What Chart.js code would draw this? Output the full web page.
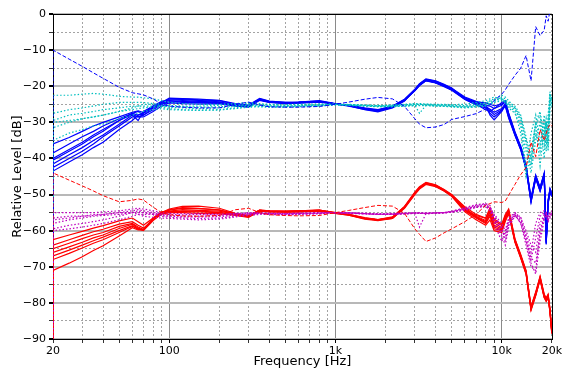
<!DOCTYPE html>
<html>
<head>
<meta charset="utf-8">
<script src="https://cdn.jsdelivr.net/npm/chart.js@4.4.1/dist/chart.umd.min.js"></script>
<style>
  html, body { margin: 0; padding: 0; background: #fff; }
</style>
</head>
<body>
<canvas id="chart" width="564" height="372"></canvas>
<script>
// ============================================
// Frequency response chart (log frequency axis)
// ============================================

// Frequencies shared by every curve (first 20 Hz point is the DC drop)
const freqs = [20, 20, 25, 30, 35, 40, 50, 60, 65, 70, 80, 90,
    100, 120, 150, 200, 250, 300, 350, 400, 500, 600, 800, 1000, 1200, 1500, 1800, 2200, 2600, 3000, 3200, 3500, 4000, 4500, 5000,
    6000, 7000, 8000, 8500, 9000, 10000, 10500, 11000, 12000, 13000, 14000, 15000, 16000, 17000, 18000, 18500, 19000, 19500, 20000];

// Tick positions / labels
const xTicks = [20, 30, 40, 50, 60, 70, 80, 90, 100, 200, 300, 400, 500, 600, 700, 800, 900,
    1000, 2000, 3000, 4000, 5000, 6000, 7000, 8000, 9000, 10000, 20000];
const xLabels = { 20: '20', 100: '100', 1000: '1k', 10000: '10k', 20000: '20k' };
const xMajor = [100, 1000, 10000];

// Blue solid curves
const blue1 = [-100, -36, -34.2, -32.5, -31, -30, -28.5, -27.2, -26.8, -27.3, -26, -25,
    -24.5, -24, -24.2, -24.4, -25.3, -25.6, -23.7, -24.4, -24.7, -24.6, -24.3, -24.9, -25.3, -26.2, -26.7, -25.7, -23.8, -21.2, -19.7, -18.4, -19, -19.9, -21,
    -23.5, -24.3, -24.6, -25, -25.4, -25, -24.2, -27.6, -32.8, -36.8, -42, -51.2, -44.8, -48.2, -44.2, -62.6, -51.7, -48.5, -49.8];
const blue2 = [-100, -38.5, -36, -34, -32.5, -31, -29, -27.5, -27, -28, -26.5, -25,
    -23.5, -23.5, -23.8, -24, -25, -25.4, -23.5, -24.2, -24.5, -24.4, -24.1, -24.9, -25.5, -26.4, -26.9, -25.9, -24, -21, -19.4, -18.1, -18.7, -19.7, -20.7,
    -23.2, -24.8, -25.6, -26.4, -27.2, -26.2, -24.8, -28.3, -33.3, -37.3, -42.6, -51.8, -45.3, -48.8, -44.8, -63.4, -52.3, -49, -50.3];
const blue3 = [-100, -40, -37.5, -35.5, -33.5, -32, -29.5, -27.8, -28.5, -28, -26, -24.5,
    -23.3, -23.4, -23.6, -23.9, -24.8, -25.2, -23.4, -24.1, -24.5, -24.4, -24, -24.8, -25.4, -26.5, -27.1, -26, -24.1, -21.1, -19.5, -18.2, -18.6, -19.6, -20.6,
    -23, -24.2, -25.2, -28, -29.3, -27, -25.3, -28.6, -33.5, -37.5, -42.8, -52, -45.5, -49, -45, -63.8, -52.6, -49.2, -50.5];
const blue4 = [-100, -40.5, -38, -36, -34, -32.5, -29.5, -27.5, -28, -27.5, -25.5, -24.5,
    -24, -24.2, -24.5, -24.6, -25.4, -25.8, -23.9, -24.5, -24.8, -24.7, -24.4, -25, -25.2, -26, -26.5, -25.5, -23.6, -20.8, -19.3, -18, -18.5, -19.5, -20.5,
    -23.6, -25, -26.5, -27, -26.2, -24.5, -24, -27.4, -32.6, -36.6, -41.8, -51, -44.6, -48, -44, -62.4, -51.5, -48.3, -49.6];
const blue5 = [-100, -41.5, -39, -37, -35, -33.5, -30.5, -28, -29.5, -27, -25.5, -24.2,
    -23.8, -23.7, -23.9, -24.3, -25.2, -25.5, -23.6, -24.3, -24.6, -24.5, -24.2, -24.9, -25.4, -26.3, -26.8, -25.8, -23.9, -21.2, -19.8, -18.5, -19.1, -20.1, -21.1,
    -23.7, -25.2, -26, -27.5, -28.5, -26.8, -25, -28.2, -33.1, -37.1, -42.4, -51.6, -45.1, -48.6, -44.6, -63.1, -52.1, -48.8, -50.1];
const blue6 = [-100, -42.5, -40, -38, -36, -34, -31, -28.5, -28.5, -28.5, -27, -25.5,
    -24.6, -24.8, -24.9, -24.8, -25.5, -25.7, -23.8, -24.4, -24.6, -24.5, -24.3, -24.9, -25.3, -26.2, -26.6, -25.6, -23.7, -21, -19.6, -18.3, -18.9, -19.8, -20.9,
    -23.5, -24.6, -25.5, -26.8, -27.8, -26.5, -25.5, -28.8, -33.6, -37.6, -42.9, -52.1, -45.6, -49.1, -45.1, -63.6, -52.5, -49.3, -50.6];
const blue7 = [-100, -43.5, -41, -39, -37, -35.5, -32, -29.5, -28, -27.5, -25.8, -24.8,
    -24.3, -24.5, -24.4, -24.6, -25.3, -25.6, -23.7, -24.4, -24.7, -24.6, -24.3, -24.9, -25.3, -26.3, -26.8, -25.8, -23.9, -21.3, -19.8, -18.4, -19, -20, -21,
    -23.2, -24.5, -25.3, -25.5, -26.2, -25.3, -24.3, -27.8, -32.9, -36.9, -42.1, -51.3, -44.9, -48.3, -44.3, -62.8, -51.8, -48.6, -49.9];

// Cyan dotted curves
const cyan1 = [-100, -22.5, -22.5, -22.2, -22, -22.2, -22.8, -23, -23, -23.2, -23.5, -24,
    -24.5, -24.8, -25, -25, -24.8, -24.5, -24.8, -25, -25.1, -25, -24.9, -25, -25, -25.2, -25.3, -25.2, -25, -24.8, -24.8, -24.9, -25, -25, -25.1,
    -25, -24.5, -24, -23.5, -23, -23.5, -24, -24.5, -25.5, -28, -34, -40, -30, -27, -34, -29, -33, -22, -24];
const cyan2 = [-100, -27.5, -26.5, -26, -25.5, -25, -24.5, -24.5, -24.5, -24.5, -24.8, -25,
    -25.3, -25.5, -25.5, -25.3, -25, -24.8, -25, -25.2, -25.3, -25.2, -25.1, -25, -25.1, -25.3, -25.5, -25.4, -25.2, -25, -25, -25.1, -25.2, -25.3, -25.4,
    -25.6, -25.3, -24.8, -24, -23.5, -22.5, -23, -24, -26, -30, -43, -33, -28, -36, -29, -38, -28, -21.5, -26];
const cyan3 = [-100, -29.5, -28, -27.5, -27, -26.5, -26, -25.5, -25.5, -25.5, -25.5, -25.5,
    -25.8, -26, -26.2, -26, -25.6, -25.3, -25.4, -25.6, -25.6, -25.5, -25.3, -25, -25.2, -25.4, -25.6, -25.6, -25.4, -25.2, -27.5, -25.3, -25.4, -25.5, -25.6,
    -25.8, -25.6, -25.2, -25, -24.5, -24, -24.5, -25.5, -27, -33, -45, -38, -30, -42, -31, -36, -30, -23, -25];
const cyan4 = [-100, -31.5, -30, -29, -28.5, -28, -27, -26.5, -26.2, -26, -25.8, -25.8,
    -26.2, -26.5, -26.6, -26.5, -26, -25.6, -25.6, -25.7, -25.7, -25.6, -25.4, -25.1, -25.3, -25.5, -25.7, -25.7, -25.5, -25.4, -25.4, -25.4, -25.5, -25.6, -25.7,
    -26, -25.8, -25.5, -25, -24.2, -23.5, -24.5, -26, -27.5, -31, -38, -42, -33, -38, -28, -32, -35, -24, -23];
const cyan5 = [-100, -35, -33, -32, -31, -30.5, -29, -28, -27.5, -27, -26.5, -26.2,
    -26.5, -26.6, -26.7, -26.6, -26.2, -25.8, -25.7, -25.8, -25.8, -25.7, -25.5, -25.2, -25.3, -25.5, -25.6, -25.6, -25.5, -25.3, -25.3, -25.3, -25.4, -25.5, -25.6,
    -25.8, -25.5, -25.2, -24.6, -24, -23, -23.5, -25, -26.5, -29, -36, -44, -35, -30, -40, -30, -37, -25, -24.5];
const cyan6 = [-100, -30, -29.5, -29, -28.5, -28, -27, -26, -25.5, -25, -25, -25.5,
    -25.6, -25.7, -25.8, -25.7, -25.4, -25.1, -25.2, -25.4, -25.5, -25.4, -25.2, -25, -25.1, -25.3, -25.4, -25.3, -25.1, -25, -25, -25, -25.1, -25.2, -25.3,
    -25.4, -25, -24.6, -24.2, -23.8, -23.5, -24.5, -25, -26, -28.5, -35, -41, -31, -28, -36, -30, -38, -26, -22.5];

// Blue dashed curve
const blueDash = [-100, -10, -12.5, -14.5, -16.3, -17.8, -20.3, -21.8, -22.1, -22.4, -23.5, -25,
    -25.5, -25.8, -26, -26, -25, -24.4, -25.2, -25.7, -25.8, -25.8, -25.6, -25, -24.4, -23.6, -23.1, -23.5, -25.6, -29, -30.5, -31.5, -31.3, -30.6, -29.2,
    -28.4, -27.6, -26.3, -25, -24, -22.2, -21, -19.5, -17, -15, -11.5, -18.5, -3.5, -6, -4.5, -0.5, -2, 1, 2];

// Red solid curves
const red1 = [-100, -62.5, -61.2, -60.2, -59.3, -58.6, -57.3, -56.5, -57.5, -58.5, -56.5, -55,
    -54, -53.3, -53.2, -53.8, -55.2, -55.8, -54.3, -54.5, -54.6, -54.5, -54.3, -55, -55.5, -56.4, -56.9, -56.2, -53.4, -49.6, -48.2, -47, -47.6, -49, -50.4,
    -54.2, -55.8, -56.6, -54.2, -57.2, -58.6, -55.8, -54.2, -62.4, -66.8, -71.2, -81.2, -77.2, -72.8, -77.8, -78.8, -77.8, -81.8, -87.8];
const red2 = [-100, -64, -62.5, -61.3, -60.3, -59.6, -58.2, -57.5, -58.5, -59.3, -57, -55.3,
    -54.3, -53.8, -53.9, -54.2, -55.4, -55.9, -54.4, -54.6, -54.7, -54.6, -54.4, -55.1, -55.6, -56.6, -57, -56.4, -53.5, -49.5, -48, -46.8, -47.4, -48.7, -50.1,
    -53.6, -56.2, -57.5, -55, -58.5, -59.5, -56.5, -54.8, -62.8, -67.2, -71.6, -81.6, -77.6, -73.2, -78.2, -79.2, -78.2, -82.2, -88.2];
const red3 = [-100, -65, -63.5, -62.2, -61.2, -60.5, -58.8, -58, -59, -59.6, -57, -55.2,
    -54.8, -54.5, -54.6, -54.9, -55.7, -56.2, -54.5, -54.7, -54.8, -54.7, -54.5, -55.2, -55.7, -56.8, -57.2, -56.6, -53.7, -49.8, -48.3, -47, -47.6, -48.9, -50.3,
    -54.5, -56.5, -58, -56, -59.5, -60, -57, -55, -63, -67.5, -72, -82, -78, -73.5, -78.5, -79.5, -78.5, -82.5, -88.5];
const red4 = [-100, -66, -64.5, -63.2, -62, -61.2, -59.4, -58.2, -59.3, -59.8, -56.8, -55,
    -54.2, -53.6, -53.8, -54.3, -55.3, -55.9, -54.3, -54.5, -54.6, -54.5, -54.3, -55, -55.5, -56.5, -56.9, -56.3, -53.3, -49.3, -47.8, -46.6, -47.3, -48.6, -50,
    -53.4, -55.5, -56.5, -53.6, -56.8, -58.2, -55.5, -54, -62.2, -66.6, -71, -81, -77, -72.6, -77.6, -78.6, -77.6, -81.6, -87.6];
const red5 = [-100, -67, -65.4, -64, -62.8, -61.8, -60, -58.6, -59.5, -59.8, -56.5, -54.8,
    -54.6, -54.2, -54.4, -54.6, -55.5, -56, -54.4, -54.6, -54.7, -54.6, -54.4, -55.1, -55.6, -56.6, -57, -56.5, -53.6, -49.6, -48.1, -46.9, -47.5, -48.8, -50.2,
    -54, -56, -57.2, -54.5, -57.8, -59.2, -56.2, -54.6, -62.6, -67, -71.4, -81.4, -77.4, -73, -78, -79, -78, -82, -88];
const red6 = [-100, -68, -66.3, -64.8, -63.5, -62.5, -60.5, -58.8, -59.6, -60, -57.2, -55.4,
    -55, -55, -55.2, -55.3, -55.8, -56.3, -54.6, -54.8, -54.9, -54.8, -54.6, -55.2, -55.7, -56.7, -57.1, -56.6, -53.8, -50, -48.5, -47.2, -47.8, -49, -50.5,
    -54.8, -57, -58.5, -57, -60, -60.5, -57.5, -55.3, -63.2, -67.6, -72, -82, -78, -73.6, -78.6, -79.6, -78.6, -82.6, -88.6];
const red7 = [-100, -71, -69, -67.2, -65.5, -64.2, -61.5, -59.2, -59.8, -59.7, -56.8, -55,
    -54.7, -54.7, -54.8, -55, -55.6, -56.1, -54.5, -54.7, -54.8, -54.7, -54.5, -55.1, -55.6, -56.6, -57, -56.5, -53.5, -49.7, -48.2, -47, -47.6, -48.9, -50.3,
    -54.3, -56.3, -57.8, -55.5, -59, -59.8, -56.8, -54.8, -62.9, -67.3, -71.7, -81.7, -77.7, -73.3, -78.3, -79.3, -78.3, -82.3, -88.3];

// Magenta dotted curves
const magenta1 = [-100, -55, -55, -55, -55, -54.8, -54.5, -54, -53.8, -54, -54.5, -55,
    -55.2, -55.3, -55.3, -55.4, -55.2, -55, -55, -55.1, -55.2, -55.1, -55, -55, -55, -55.2, -55.3, -55.2, -55.1, -55, -55, -55.1, -55, -55, -54.8,
    -54, -53.2, -52.8, -53.5, -55.5, -58, -60, -57, -55, -57, -61, -66, -58, -55, -54.5, -55, -55.5, -55, -54.5];
const magenta2 = [-100, -56.5, -56, -56, -55.8, -55.5, -55, -54.5, -54.2, -54.5, -55, -55.3,
    -55.5, -55.6, -55.5, -55.6, -55.3, -55.2, -55.1, -55.3, -55.3, -55.2, -55.1, -55, -55.1, -55.3, -55.5, -55.4, -55.2, -55.1, -55.2, -55.2, -55.1, -55, -54.6,
    -53.8, -53, -52.6, -54, -57, -61.5, -64, -59, -56, -56, -62, -68, -62, -56, -55, -55.5, -57, -56, -55];
const magenta3 = [-100, -58, -57, -56.5, -56, -55.8, -55.5, -55, -55, -55, -55.2, -55.5,
    -55.8, -56, -56, -55.8, -55.5, -55.3, -55.2, -55.4, -55.4, -55.3, -55.2, -55, -55.2, -55.4, -55.5, -55.4, -55.3, -55.2, -59, -55.3, -55.2, -55.1, -54.9,
    -54.2, -53.5, -53.2, -54.5, -56, -59.5, -62, -58, -55.5, -58, -64, -70, -71, -60, -56, -55, -56, -55.5, -55.2];
const magenta4 = [-100, -60, -59.5, -59, -58.5, -58, -57, -56, -55.5, -55.5, -55.5, -56,
    -56.3, -56.5, -56.6, -56.5, -56, -55.6, -55.3, -55.4, -55.5, -55.4, -55.3, -55, -55.1, -55.3, -55.5, -55.5, -55.4, -55.2, -55.2, -55.2, -55.1, -55, -54.7,
    -53.6, -52.8, -52.5, -53, -56.5, -60.5, -61, -57.5, -55.5, -57.5, -63, -69, -72, -63, -57, -56, -57.5, -56.5, -55.5];
const magenta5 = [-100, -57, -56.5, -56, -55.5, -55.5, -55, -55, -55.5, -56, -56.3, -56.5,
    -56.6, -56.8, -57, -56.8, -56.2, -55.8, -55.5, -55.5, -55.6, -55.5, -55.3, -55, -55.1, -55.2, -55.4, -55.4, -55.3, -55.2, -55.2, -55.3, -55.2, -55.1, -54.9,
    -54.4, -53.6, -53.3, -54.2, -58, -63, -60, -56.5, -55, -56.5, -60, -64, -66, -58, -55.5, -55, -56, -55.2, -54.8];
const magenta6 = [-100, -59.5, -58.5, -58, -57.5, -57, -56, -55, -54.5, -55, -55.5, -55.8,
    -56, -56.2, -56.2, -56.1, -55.7, -55.4, -55.2, -55.3, -55.4, -55.3, -55.2, -55, -55.1, -55.3, -55.4, -55.4, -55.2, -55.1, -55.1, -55.2, -55.1, -55, -54.8,
    -54, -53.4, -53, -53.8, -55.8, -59, -63, -58.5, -55.8, -57.8, -62.5, -67.5, -69, -61, -56.5, -55.5, -56.8, -55.8, -55.3];

// Red dashed curve
const redDash = [-100, -44, -46, -47.6, -49, -50.3, -52, -51.6, -51.2, -51.5, -53.5, -55,
    -55.6, -55.9, -56, -55.8, -54.2, -53.8, -55, -55.6, -55.8, -55.9, -55.8, -55, -54.4, -53.6, -53, -53.2, -55.2, -59.5, -61, -63, -62, -60.6, -59.5,
    -57.5, -55.5, -53, -52.5, -52, -52.2, -51.8, -50.2, -47.2, -44.5, -42.5, -35.5, -39.5, -32, -35, -33, -31.5, -30.5, -31];

// Styles
const BLUE = '#0000ff';
const CYAN = '#00bfbf';
const RED = '#ff0000';
const MAGENTA = '#bf00bf';
const FONT = 'DejaVu Sans';

function toPoints(levels) {
    return freqs.map((f, i) => ({ x: f, y: levels[i] }));
}

function makeSet(levels, color, dash, width) {
    return {
        data: toPoints(levels),
        borderColor: color,
        borderWidth: width,
        borderDash: dash,
        borderCapStyle: 'butt',
        pointRadius: 0,
        fill: false,
        tension: 0
    };
}

// Drawn bottom to top
const solid = [];
const dotted = [1.5, 2];
const dashed = [4, 2];
const layers = [
    ...[blue1, blue2, blue3, blue4, blue5, blue6, blue7].map(s => makeSet(s, BLUE, solid, 1.2)),
    ...[cyan1, cyan2, cyan3, cyan4, cyan5, cyan6].map(s => makeSet(s, CYAN, dotted, 1.2)),
    makeSet(blueDash, BLUE, dashed, 1),
    ...[red1, red2, red3, red4, red5, red6, red7].map(s => makeSet(s, RED, solid, 1.2)),
    ...[magenta1, magenta2, magenta3, magenta4, magenta5, magenta6].map(s => makeSet(s, MAGENTA, dotted, 1.2)),
    makeSet(redDash, RED, dashed, 1)
];
// lower order is drawn on top
layers.forEach((d, i) => { d.order = layers.length - i; });

// Black box round the plot area
const framePlugin = {
    id: 'frame',
    beforeDatasetsDraw(chart) {
        const { ctx, chartArea: a } = chart;
        ctx.save();
        ctx.strokeStyle = '#000';
        ctx.lineWidth = 1;
        const l = Math.round(a.left) + 0.5, t = Math.round(a.top) + 0.5;
        const r = Math.round(a.right) + 0.5, b = Math.round(a.bottom) + 0.5;
        ctx.strokeRect(l, t, r - l, b - t);
        ctx.restore();
    }
};

const isXMajor = ctx => ctx.tick && xMajor.includes(ctx.tick.value);
const isYMajor = ctx => ctx.tick && ctx.tick.value % 10 === 0;

new Chart(document.getElementById('chart'), {
    type: 'line',
    data: { datasets: layers },
    plugins: [framePlugin],
    options: {
        responsive: false,
        devicePixelRatio: 1,
        animation: false,
        events: [],
        layout: { padding: { top: 14, right: 12, left: 0, bottom: 0 } },
        scales: {
            x: {
                type: 'logarithmic',
                min: 20,
                max: 20000,
                afterBuildTicks: scale => { scale.ticks = xTicks.map(v => ({ value: v })); },
                afterFit: scale => { scale.height = 33; },
                ticks: {
                    autoSkip: false,
                    maxRotation: 0,
                    padding: 2,
                    color: '#000',
                    font: { family: FONT, size: 11 },
                    callback: v => xLabels[v] || ''
                },
                grid: {
                    color: ctx => isXMajor(ctx) ? '#8a8a8a' : '#8c8c8c',
                    lineWidth: ctx => isXMajor(ctx) ? 1 : 0.8,
                    tickColor: '#000',
                    tickLength: 4
                },
                border: {
                    display: false,
                    dash: ctx => (!ctx.tick || isXMajor(ctx)) ? [] : [2, 2]
                },
                title: {
                    display: true,
                    text: 'Frequency [Hz]',
                    color: '#000',
                    font: { family: FONT, size: 13 },
                    padding: { top: 0, bottom: 3 }
                }
            },
            y: {
                type: 'linear',
                min: -90,
                max: 0,
                afterFit: scale => { scale.width = 53; },
                ticks: {
                    stepSize: 5,
                    padding: 3,
                    color: '#000',
                    font: { family: FONT, size: 11 },
                    callback: v => v % 10 === 0 ? (v < 0 ? '\u2212' + (-v) : String(v)) : ''
                },
                grid: {
                    color: ctx => isYMajor(ctx) ? '#b8b8b8' : '#8c8c8c',
                    lineWidth: ctx => isYMajor(ctx) ? 2 : 0.8,
                    tickColor: '#000',
                    tickLength: 4
                },
                border: {
                    display: false,
                    dash: ctx => (!ctx.tick || isYMajor(ctx)) ? [] : [2, 2]
                },
                title: {
                    display: true,
                    text: 'Relative Level [dB]',
                    color: '#000',
                    font: { family: FONT, size: 13 },
                    padding: { top: 10, bottom: 0 }
                }
            }
        },
        plugins: {
            legend: { display: false },
            tooltip: { enabled: false }
        }
    }
});
</script>
</body>
</html>
